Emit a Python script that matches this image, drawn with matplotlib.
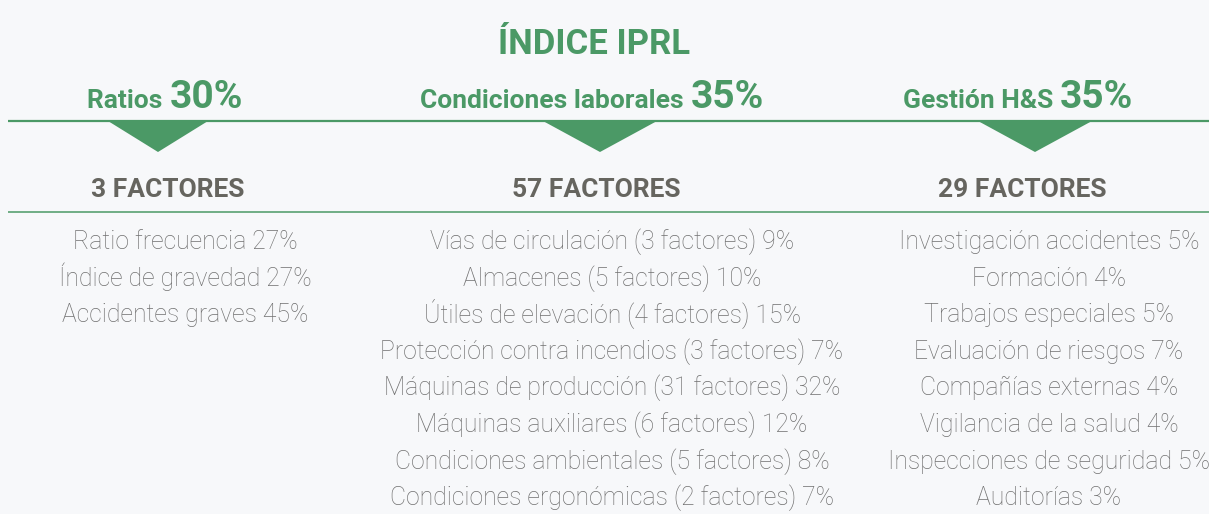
import matplotlib.pyplot as plt

# data
title = 'ÍNDICE IPRL'
groups = ['Ratios', 'Condiciones laborales', 'Gestión H&S']
weights = ['30%', '35%', '35%']
factor_counts = [3, 57, 29]
items_ratios = ['Ratio frecuencia 27%', 'Índice de gravedad 27%', 'Accidentes graves 45%']
items_condiciones = [
    'Vías de circulación (3 factores) 9%',
    'Almacenes (5 factores) 10%',
    'Útiles de elevación (4 factores) 15%',
    'Protección contra incendios (3 factores) 7%',
    'Máquinas de producción (31 factores) 32%',
    'Máquinas auxiliares (6 factores) 12%',
    'Condiciones ambientales (5 factores) 8%',
    'Condiciones ergonómicas (2 factores) 7%',
]
items_gestion = [
    'Investigación accidentes 5%',
    'Formación 4%',
    'Trabajos especiales 5%',
    'Evaluación de riesgos 7%',
    'Compañías externas 4%',
    'Vigilancia de la salud 4%',
    'Inspecciones de seguridad 5%',
    'Auditorías 3%',
]
items = [items_ratios, items_condiciones, items_gestion]

# layout (pixels)
head_x = [165, 592, 1018]
tri_x = [158, 600, 1035]
tri_half = [50, 57, 57]
fact_x = [168, 596, 1022]
item_x = [185, 612, 1049]

green = '#4b9966'
dark = '#66655f'
grey = '#707070'
bg = '#f7f8fa'
font = ['Roboto', 'DejaVu Sans']

fig = plt.figure(figsize=(12.09, 5.14), dpi=100, facecolor=bg)
ax = fig.add_axes([0, 0, 1, 1])
ax.set_xlim(0, 1209)
ax.set_ylim(514, 0)
ax.axis('off')
ax.set_facecolor(bg)

ax.text(594, 54, title, ha='center', va='baseline', fontsize=25,
        fontweight='bold', color=green, family=font)

# horizontal rules
ax.plot([8, 1209], [121, 121], color=green, lw=1.6, solid_capstyle='butt')
ax.plot([8, 1209], [212, 212], color=green, lw=1.1, solid_capstyle='butt')

fig.canvas.draw()
r = fig.canvas.get_renderer()
for i, g in enumerate(groups):
    t1 = ax.text(0, 108, g + ' ', ha='left', va='baseline', fontsize=19,
                 fontweight='bold', color=green, family=font)
    t2 = ax.text(0, 108, weights[i], ha='left', va='baseline', fontsize=28,
                 fontweight='bold', color=green, family=font)
    w1 = t1.get_window_extent(r).width
    w2 = t2.get_window_extent(r).width
    x0 = head_x[i] - (w1 + w2) / 2
    t1.set_x(x0)
    t2.set_x(x0 + w1)

    c = tri_x[i]
    h = tri_half[i]
    ax.fill([c - h, c + h, c], [121, 121, 152], color=green, lw=0)

    ax.text(fact_x[i], 197, f'{factor_counts[i]} FACTORES', ha='center',
            va='baseline', fontsize=19, fontweight='bold', color=dark, family=font)

    for j, s in enumerate(items[i]):
        ax.text(item_x[i], 249 + 36.6 * j, s, ha='center', va='baseline',
                fontsize=17.8, fontweight='light', color=grey, family=font)

fig.savefig('out.png', dpi=100, facecolor=bg)
